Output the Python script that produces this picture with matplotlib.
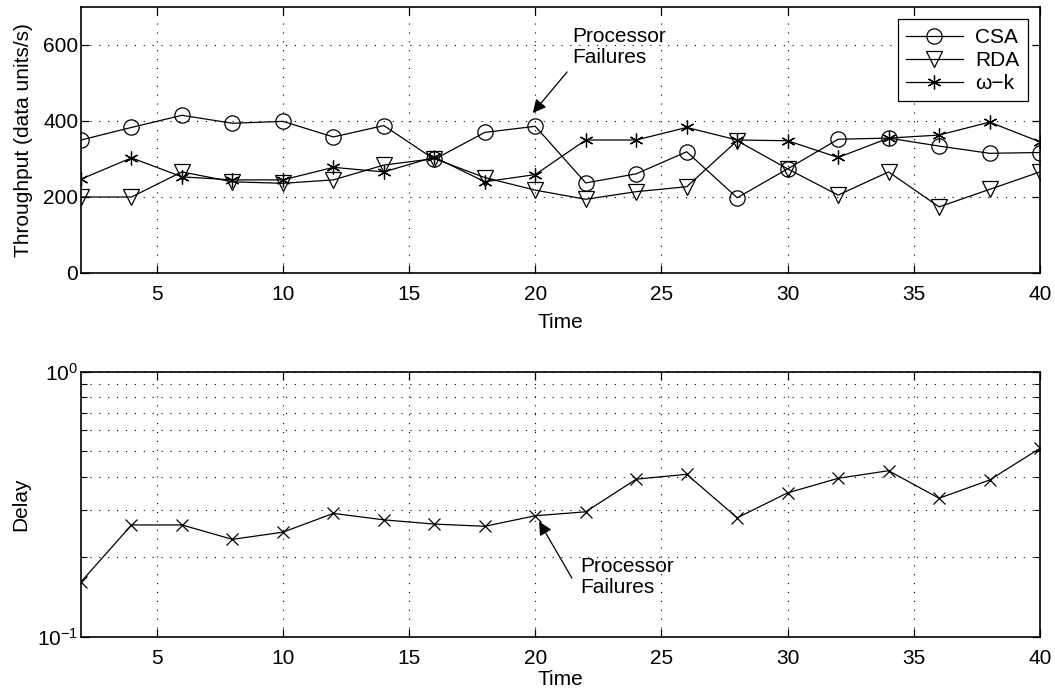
import numpy as np
import matplotlib
matplotlib.use("Agg")
import matplotlib.pyplot as plt
from matplotlib.ticker import LogLocator, NullFormatter

plt.rcParams['font.family'] = ['Liberation Sans', 'DejaVu Sans']
plt.rcParams['font.size'] = 15

# time steps
t = [2, 4, 6, 8, 10, 12, 14, 16, 18, 20, 22, 24, 26, 28, 30, 32, 34, 36, 38, 40]

# throughput (data units/s)
csa = [350, 383, 415, 394, 399, 358, 388, 299, 370, 386,
       237, 261, 319, 198, 274, 352, 355, 334, 315, 317]
rda = [200, 200, 266, 240, 236, 245, 284, 301, 251, 218,
       194, 214, 227, 348, 274, 205, 266, 174, 220, 266]
wk = [247, 303, 253, 245, 245, 278, 266, 305, 240, 259,
      350, 350, 383, 350, 348, 304, 355, 363, 397, 345]

# delay
delay = [0.161, 0.264, 0.264, 0.233, 0.248, 0.292, 0.276, 0.266, 0.261, 0.286,
         0.296, 0.393, 0.410, 0.281, 0.349, 0.396, 0.423, 0.333, 0.390, 0.514]

fig = plt.figure(figsize=(10.55, 6.92), dpi=100)
ax1 = fig.add_axes([0.0768, 0.6055, 0.909, 0.3844])
ax2 = fig.add_axes([0.0768, 0.0799, 0.909, 0.383])

ms_kw = dict(color='black', lw=0.9, markerfacecolor='none', markeredgecolor='black', markeredgewidth=0.9)
ax1.plot(t, csa, marker='o', ms=11, label='CSA', **ms_kw)
ax1.plot(t, rda, marker='v', ms=12, label='RDA', **ms_kw)
ax1.plot(t, wk, marker=(6, 2, 0), ms=10, label='ω−k', **ms_kw)

grid_ls = (0, (1, 7))
arrow = dict(arrowstyle='-|>', color='black', lw=0.9, mutation_scale=20,
             shrinkA=0, shrinkB=0)

ax1.set_xlim(2, 40)
ax1.set_ylim(0, 700)
ax1.set_xticks([5, 10, 15, 20, 25, 30, 35, 40])
ax1.set_yticks([0, 200, 400, 600])
ax1.set_xlabel('Time', labelpad=6)
ax1.set_ylabel('Throughput (data units/s)', labelpad=7)
ax1.grid(True, which='major', ls=grid_ls, color='black', lw=0.8)
ax1.text(21.45, 595, 'Processor\nFailures', ha='left', va='center', linespacing=1.15)
ax1.annotate('', xy=(19.9, 421), xytext=(21.26, 529), arrowprops=arrow)
leg = ax1.legend(loc='upper right', fancybox=False, edgecolor='black',
                 framealpha=1, handlelength=2.7, handletextpad=0.6,
                 borderaxespad=0.6, labelspacing=0.2, borderpad=0.4)
leg.get_frame().set_linewidth(0.9)

ax2.semilogy(t, delay, marker='x', ms=8, **ms_kw)
ax2.set_xlim(2, 40)
ax2.set_ylim(0.1, 1)
ax2.set_xticks([5, 10, 15, 20, 25, 30, 35, 40])
ax2.yaxis.set_major_locator(LogLocator(base=10, numticks=5))
ax2.yaxis.set_minor_locator(LogLocator(base=10, subs=np.arange(2, 10), numticks=10))
ax2.yaxis.set_minor_formatter(NullFormatter())
ax2.set_xlabel('Time', labelpad=1)
ax2.set_ylabel('Delay', labelpad=5)
ax2.grid(True, which='major', ls=grid_ls, color='black', lw=0.8)
ax2.grid(True, which='minor', axis='y', ls=grid_ls, color='black', lw=0.8)
ax2.text(21.77, 0.168, 'Processor\nFailures', ha='left', va='center', linespacing=1.15)
ax2.annotate('', xy=(20.15, 0.272), xytext=(21.45, 0.1665), arrowprops=arrow)

for ax in (ax1, ax2):
    ax.tick_params(which='both', direction='in', top=True, right=True)
    ax.tick_params(axis='x', which='major', pad=9)
    ax.tick_params(axis='y', which='major', pad=2)
    ax.tick_params(which='major', length=6, width=0.9)
    ax.tick_params(which='minor', length=4, width=0.8)
    for s in ax.spines.values():
        s.set_linewidth(1.2)

fig.savefig('out.png', dpi=100)
